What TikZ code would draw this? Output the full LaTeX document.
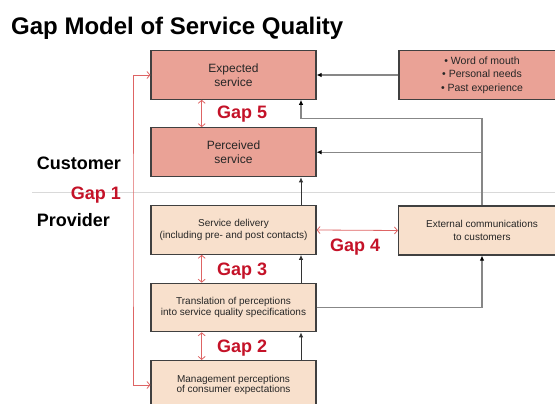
\documentclass[tikz,border=0pt]{standalone}
\usepackage{fontspec}
\setmainfont{Liberation Sans}
\usetikzlibrary{arrows.meta}
\definecolor{salmon}{RGB}{234,162,150}
\definecolor{peach}{RGB}{248,224,204}
\definecolor{gapred}{RGB}{196,18,40}
\definecolor{gapline}{RGB}{222,100,100}
\definecolor{boxline}{RGB}{64,64,64}
\definecolor{feedgray}{RGB}{135,135,135}

\begin{document}
\begin{tikzpicture}[x=1pt,y=-1pt,
	box/.style={draw=boxline,line width=1.1pt,minimum width=165pt,minimum height=48.5pt,inner sep=0pt,align=center,text=black!85},
	cust/.style={box,fill=salmon,font=\fontsize{12}{14.4}\selectfont},
	prov/.style={box,fill=peach,font=\fontsize{10}{12.7}\selectfont},
	side/.style={anchor=base west,inner sep=0pt,font=\fontsize{18}{18}\selectfont\bfseries},
	gaplabel/.style={side,text=gapred},
	gap/.style={draw=gapline,line width=0.8pt,{Straight Barb[length=3pt,width=7pt]}-{Straight Barb[length=3pt,width=7pt]}},
	feed/.style={draw=feedgray,line width=1.1pt,-{Latex[length=5pt,width=4.5pt,color=black]}},
	flow/.style={draw=black!80,line width=0.9pt,-{Latex[length=5pt,width=4.5pt]}}]

	\useasboundingbox (0,0) rectangle (555,404);

	\draw [draw=black!15,line width=0.9pt] (32,192) -- (555,192);

	\node [side,font=\fontsize{24}{24}\selectfont\bfseries] (title) at (11,35) {Gap Model of Service Quality};

	\node [cust] (expected) at (233.5,75) {Expected\\service};
	\node [cust,minimum width=166pt,font=\fontsize{10.5}{13.3}\selectfont] (word) at (482,75) {• Word of mouth\\• Personal needs\\• Past experience};
	\node [cust,minimum height=49pt] (perceived) at (233.5,152.2) {Perceived\\service};

	\node [prov] (delivery) at (233.5,230) {Service delivery\\(including pre- and post contacts)};
	\node [prov,minimum width=167pt,minimum height=49pt] (extcomm) at (482,230.5) {External communications\\to customers};
	\node [prov,font=\fontsize{10}{10.7}\selectfont] (translation) at (233.5,307.5) {Translation of perceptions\\into service quality specifications};
	\node [prov,minimum height=49pt,font=\fontsize{10}{10.5}\selectfont] (management) at (233.5,385) {Management perceptions\\of consumer expectations};

	\coordinate (rx) at (301,0);
	\coordinate (gx) at (201.7,0);
	\coordinate (lx) at (133,0);
	\coordinate (fx) at (482.5,118.7);

	\draw [feed] (word.west) -- (expected.east);
	\draw [feed] (extcomm.north) |- (fx -| rx) -- (expected.south -| rx);
	\draw [feed] (extcomm.north |- perceived.east) -- (perceived.east);
	\draw [feed] (translation.east) -| (extcomm.south);

	\draw [flow] (delivery.north -| rx) -- (perceived.south -| rx);
	\draw [flow] (translation.north -| rx) -- (delivery.south -| rx);
	\draw [flow] (management.north -| rx) -- (translation.south -| rx);

	\draw [gap] (expected.south -| gx) -- (perceived.north -| gx);
	\draw [gap] (delivery.south -| gx) -- (translation.north -| gx);
	\draw [gap] (translation.south -| gx) -- (management.north -| gx);
	\draw [gap] (delivery.east) -- (extcomm.west);
	\draw [gap] (expected.west) -| (lx |- delivery.west) |- (management.west);

	\node [side] (customer) at (36.7,169.3) {Customer};
	\node [side] (provider) at (36.7,226.7) {Provider};
	\node [gaplabel] (gap1) at (70.7,199) {Gap 1};
	\node [gaplabel] (gap5) at (217,119) {Gap 5};
	\node [gaplabel] (gap4) at (330,251) {Gap 4};
	\node [gaplabel] (gap3) at (217,275) {Gap 3};
	\node [gaplabel] (gap2) at (217,352) {Gap 2};
\end{tikzpicture}
\end{document}
